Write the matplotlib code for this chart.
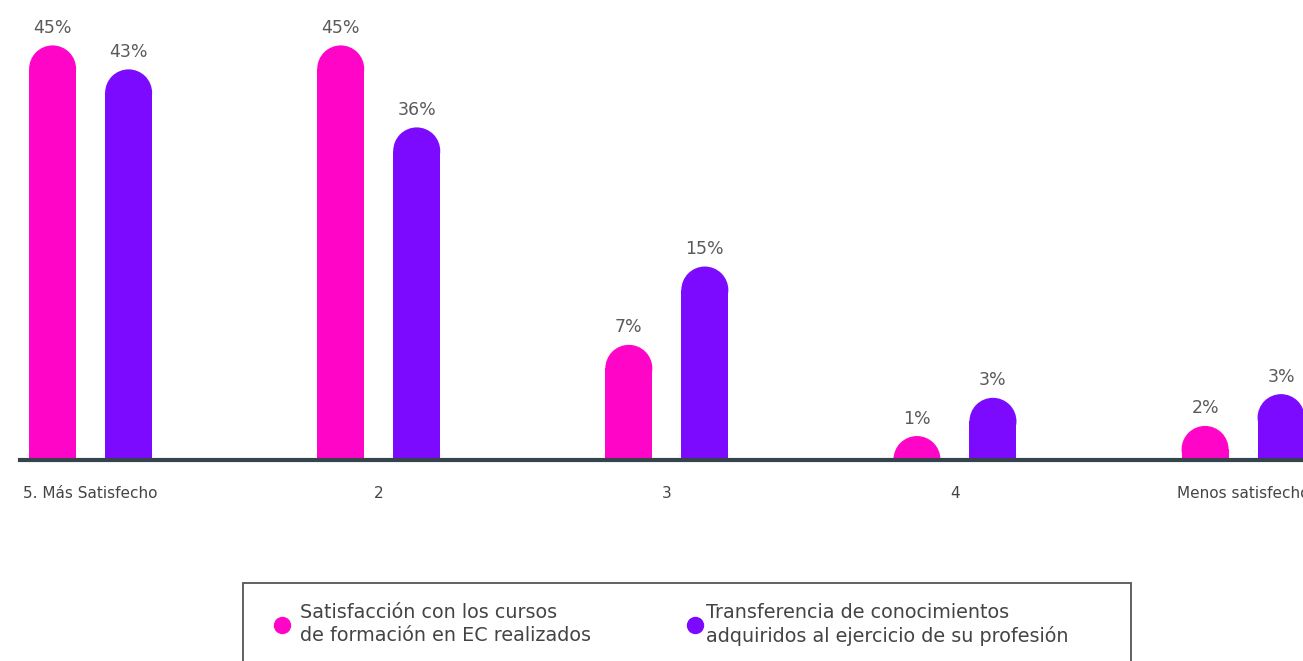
import matplotlib
matplotlib.use("Agg")
import matplotlib.pyplot as plt
from matplotlib.patches import Rectangle, Ellipse
from matplotlib.lines import Line2D
import numpy as np

plt.rcParams['font.family'] = ['DejaVu Sans']

categories = ['5. Más Satisfecho', '2', '3', '4', 'Menos satisfecho']
satisfaccion = [45, 45, 7, 1, 2]
transferencia = [43, 36, 15, 3, 3]
# drawn bar heights as they appear in the picture (not strictly proportional)
satisfaccion_height = [45, 45, 12.5, 2.6, 3.7]
transferencia_height = [42.4, 36.1, 21.0, 6.75, 7.15]
series_names = ['Satisfacción con los cursos\nde formación en EC realizados',
                'Transferencia de conocimientos\nadquiridos al ejercicio de su profesión']

pink = '#ff05c8'
purple = '#7b0aff'
text_grey = '#5a5a5a'

W, H = 1303, 661
fig = plt.figure(figsize=(W / 100, H / 100), dpi=100)

base_px = 460
top_px = 15
ax = fig.add_axes([0, (H - base_px) / H, 1, (base_px - top_px) / H])
ymax = 48.3
x0, x1 = -0.3145, 4.208
ax.set_ylim(0, ymax)
ax.set_xlim(x0, x1)

px_per_x = W / (x1 - x0)
px_per_y = (base_px - top_px) / ymax
bar_w = 47 / px_per_x
offset = 38 / px_per_x
radius = 23.5 / px_per_y

x = np.arange(len(categories))
for vals, heights, color, dx in [(satisfaccion, satisfaccion_height, pink, -offset),
                                 (transferencia, transferencia_height, purple, offset)]:
    for xi, v, h in zip(x, vals, heights):
        body = max(h - radius, 0)
        ax.bar(xi + dx, body, width=bar_w, color=color, linewidth=0, zorder=2)
        ax.add_patch(Ellipse((xi + dx, body), bar_w, 2 * radius, color=color,
                             linewidth=0, zorder=2))
        ax.text(xi + dx, h + 1.9, f'{v}%', ha='center', va='center',
                fontsize=12.5, color=text_grey)

ax.axhline(0, xmin=20 / W, xmax=1, color='#36454d', lw=3, clip_on=False, zorder=3)

ax.set_xticks(x)
ax.set_xticklabels(categories, fontsize=11, color='#444444')
ax.tick_params(axis='x', length=0, pad=19)
ax.set_yticks([])
for s in ax.spines.values():
    s.set_visible(False)

# legend box (runs off the bottom of the picture)
fig.add_artist(Rectangle((243 / W, -0.2), (1131 - 243) / W, 0.2 + (H - 583) / H,
                         transform=fig.transFigure, fill=False,
                         edgecolor='#555555', lw=1.3))
for mx, tx, color, name in [(282, 300, pink, series_names[0]),
                            (695, 706, purple, series_names[1])]:
    fig.add_artist(Line2D([mx / W], [(H - 625) / H], marker='o', markersize=11.5,
                          color=color, transform=fig.transFigure))
    fig.text(tx / W, (H - 624) / H, name, ha='left', va='center', fontsize=13.8,
             color='#444444', linespacing=1.25)

fig.savefig('out.png', dpi=100)
